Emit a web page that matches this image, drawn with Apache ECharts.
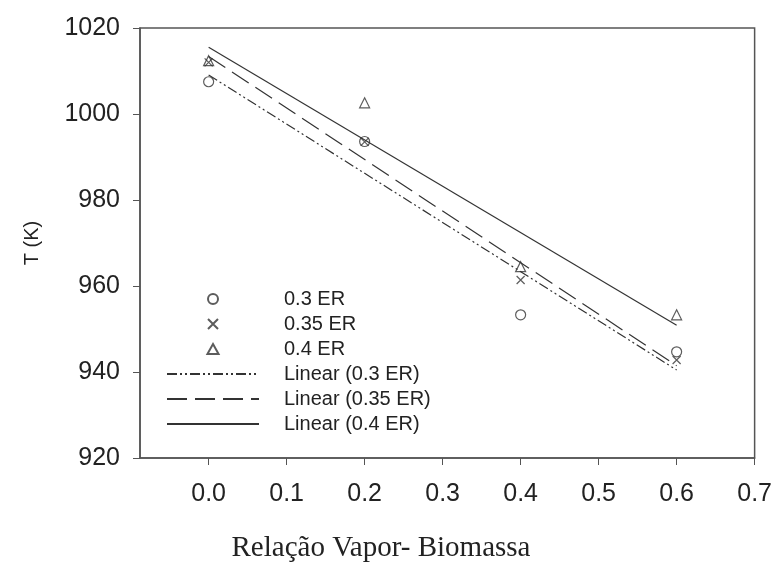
<!DOCTYPE html>
<html>
<head>
<meta charset="utf-8">
<script src="https://cdn.jsdelivr.net/npm/echarts@6/dist/echarts.min.js"></script>
<style>
  html, body { margin: 0; padding: 0; background: #fff; }
  #chart { width: 775px; height: 566px; }
</style>
</head>
<body>
<div id="chart"></div>
<script>
// steam/biomass ratio
var ratios = [0.0, 0.2, 0.4, 0.6];
// temperature (K) for each equivalence ratio
var temp03 = [1007.5, 993.6, 953.3, 944.7];
var temp035 = [1012.0, 993.5, 961.4, 942.8];
var temp04 = [1012.4, 1002.6, 964.5, 953.3];

var xTicks = [0, 0.1, 0.2, 0.3, 0.4, 0.5, 0.6, 0.7];
var ink = '#333';
var sans = 'Liberation Sans';
var triangle = 'path://M5,0L10,9L0,9Z';
var cross = 'path://M0,0L10,10M10,0L0,10';

function pairs(ys) {
    return ratios.map(function (x, i) { return [x, ys[i]]; });
}

// least-squares trend line between the first and last x
function trend(ys) {
    var n = ratios.length, sx = 0, sy = 0, sxx = 0, sxy = 0;
    for (var i = 0; i < n; i++) {
        sx += ratios[i]; sy += ys[i];
        sxx += ratios[i] * ratios[i]; sxy += ratios[i] * ys[i];
    }
    var b = (n * sxy - sx * sy) / (n * sxx - sx * sx);
    var a = (sy - b * sx) / n;
    var x0 = ratios[0], x1 = ratios[n - 1];
    return [[x0, a + b * x0], [x1, a + b * x1]];
}

var hollow = { color: 'rgba(0,0,0,0)', borderColor: ink, borderWidth: 1.2 };
// legend icon of a line series: keep the line, hide the marker
var noMarker = { color: 'rgba(0,0,0,0)', borderWidth: 0, opacity: 0 };

function trendSeries(name, ys, dash) {
    return {
        name: name, type: 'line', data: trend(ys),
        symbol: 'none', showSymbol: false, silent: true,
        itemStyle: { color: ink },
        lineStyle: { color: ink, width: 1.2, type: dash }
    };
}

var chart = echarts.init(document.getElementById('chart'));
chart.setOption({
    animation: false,
    backgroundColor: '#fff',
    title: {
        text: 'Relação Vapor- Biomassa',
        left: 376, top: 529, textAlign: 'center',
        textStyle: { fontFamily: 'Liberation Serif', fontSize: 29, fontWeight: 'normal', color: '#222' }
    },
    grid: {
        left: 140, right: 20, top: 28, bottom: 108,
        show: true, borderColor: '#555', borderWidth: 1.5
    },
    legend: {
        orient: 'vertical', left: 161, top: 284,
        itemWidth: 92, itemHeight: 10, itemGap: 5,
        textStyle: { fontFamily: sans, fontSize: 20, color: '#222', lineHeight: 20, padding: [0, 0, 0, 20] },
        data: [
            { name: '0.3 ER' },
            { name: '0.35 ER' },
            { name: '0.4 ER', icon: triangle },
            { name: 'Linear (0.3 ER)', itemStyle: noMarker },
            { name: 'Linear (0.35 ER)', itemStyle: noMarker },
            { name: 'Linear (0.4 ER)', itemStyle: noMarker }
        ]
    },
    xAxis: {
        type: 'value', min: -0.088, max: 0.7,
        splitLine: { show: false },
        axisLine: { onZero: false, lineStyle: { color: '#555', width: 1.5 } },
        axisTick: { length: 7, customValues: xTicks, lineStyle: { color: '#555' } },
        axisLabel: {
            customValues: xTicks, margin: 24,
            fontFamily: sans, fontSize: 25, color: '#222',
            formatter: function (v) { return v.toFixed(1); }
        }
    },
    yAxis: {
        type: 'value', min: 920, max: 1020, interval: 20,
        name: 'T (K)', nameLocation: 'middle', nameGap: 98,
        nameTextStyle: { fontFamily: sans, fontSize: 20, color: '#222' },
        splitLine: { show: false },
        axisLine: { show: true, onZero: false, lineStyle: { color: '#555', width: 1.5 } },
        axisTick: { show: true, length: 7, lineStyle: { color: '#555' } },
        axisLabel: {
            margin: 20, fontFamily: sans, fontSize: 25, color: '#222',
            formatter: function (v) { return String(v); }
        }
    },
    series: [
        { name: '0.3 ER', type: 'scatter', data: pairs(temp03), symbol: 'circle', symbolSize: 10, itemStyle: hollow },
        { name: '0.35 ER', type: 'scatter', data: pairs(temp035), symbol: cross, symbolSize: 8, itemStyle: hollow },
        { name: '0.4 ER', type: 'scatter', data: pairs(temp04), symbol: triangle, symbolSize: 10, itemStyle: hollow },
        trendSeries('Linear (0.3 ER)', temp03, [10, 3, 2, 3, 2, 3]),
        trendSeries('Linear (0.35 ER)', temp035, [20, 8]),
        trendSeries('Linear (0.4 ER)', temp04, 'solid')
    ]
});
</script>
</body>
</html>
